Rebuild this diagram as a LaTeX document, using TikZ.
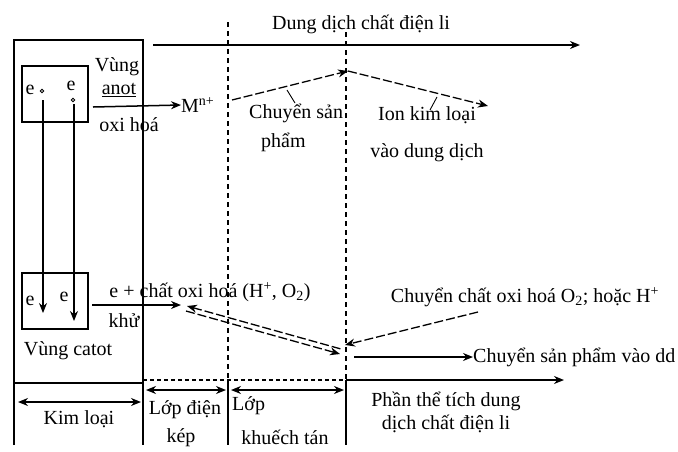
\documentclass[tikz,border=0pt]{standalone}
\usepackage{fontspec}
\setmainfont{Liberation Serif}
\usetikzlibrary{arrows.meta}
\begin{document}
\begin{tikzpicture}[x=1pt,y=-1pt,
  txt/.style={inner sep=0pt,font=\fontsize{20}{24}\selectfont},
  ln/.style={line width=1.5pt},
  arr/.style={ln,-{Stealth[length=10pt,width=8pt]}},
  darr/.style={ln,{Stealth[length=10pt,width=8pt]}-{Stealth[length=10pt,width=8pt]}},
  dsh/.style={line width=1.3pt,dash pattern=on 9pt off 3pt},
  vdash/.style={line width=1.2pt,dash pattern=on 5pt off 4pt},
  hdot/.style={line width=1.2pt,dash pattern=on 4pt off 3pt}]
\useasboundingbox (0,0) rectangle (678,451);
% metal electrode
\draw[ln] (14,445) -- (14,40) -- (143,40) -- (143,445);
\draw[ln] (14,383) -- (143,383);
% boxes
\node[draw,line width=1.3pt,minimum width=66pt,minimum height=56pt,inner sep=0pt] (anbox) at (55,94) {};
\node[draw,line width=1.3pt,minimum width=66pt,minimum height=56pt,inner sep=0pt] (catbox) at (55,301) {};
% electrons
\node[txt] (e1) at (30,90) {e};
\node[txt] (e2) at (71,86) {e};
\draw[line width=0.8pt] (42,91) circle (1.8pt) coordinate (c1);
\draw[line width=0.8pt] (73,100) circle (1.8pt) coordinate (c2);
\node[txt] (e3) at (30,301) {e};
\node[txt] (e4) at (64,297) {e};
\coordinate (s1) at (43,100); \coordinate (t1) at (43,313);
\coordinate (s2) at (74,104); \coordinate (t2) at (74,321);
\draw[arr] (s1) -- (t1);
\draw[arr] (s2) -- (t2);
% anode labels
\node[txt] (vung) at (117,67) {Vùng};
\node[txt] (anot) at (119,90) {\underline{anot}};
\node[txt] (oxh) at (129,125) {oxi hoá};
\node[txt,anchor=west] (Mion) at (181,105) {M\textsuperscript{n+}};
\coordinate (a0) at (93,107);
\draw[arr] (a0) -- (Mion.west);
% solution top
\node[txt] (title) at (361,24) {Dung dịch chất điện li};
\coordinate (sol0) at (153,45); \coordinate (sol1) at (580,45);
\draw[arr] (sol0) -- (sol1);
% vertical separators
\coordinate (v1t) at (228,22); \coordinate (v1m) at (228,380); \coordinate (v1b) at (228,445);
\coordinate (v2t) at (346,32); \coordinate (v2m) at (346,380); \coordinate (v2b) at (346,445);
\draw[vdash] (v1t) -- (v1m);
\draw[ln] (v1m) -- (v1b);
\draw[vdash] (v2t) -- (v2m);
\draw[ln] (v2m) -- (v2b);
% bottom horizontal
\coordinate (h0) at (143,380); \coordinate (h2) at (564,380);
\draw[hdot] (h0) -- (v2m);
\draw[arr] (v2m) -- (h2);
% product transfer (anode)
\coordinate (p0) at (232,100); \coordinate (p1) at (348,71); \coordinate (p2) at (488,106);
\draw[dsh,-{Stealth[length=10pt,width=8pt]}] (p0) -- (p1);
\draw[dsh,-{Stealth[length=10pt,width=8pt]}] (p1) -- (p2);
\node[txt,anchor=north west,align=left] (csp) at (249,104) {Chuyển sản\\[5pt]\hspace*{12pt}phẩm};
\coordinate (q0) at (287,90); \coordinate (q1) at (295,103);
\draw[line width=0.9pt] (q0) -- (q1);
\node[txt,align=center,anchor=north] (ion) at (427,106) {Ion kim loại\\[13pt]vào dung dịch};
\coordinate (r0) at (437,97); \coordinate (r1) at (430,110);
\draw[line width=0.9pt] (r0) -- (r1);
% cathode
\node[txt] (ecox) at (210,292) {e + chất oxi hoá (H\textsuperscript{+}, O\textsubscript{2})};
\coordinate (k0) at (92,305); \coordinate (k1) at (181,305);
\draw[arr] (k0) -- (k1);
\node[txt] (khu) at (124,321) {khử};
\node[txt] (vcat) at (68,351) {Vùng catot};
% double dashed arrows
\coordinate (d0) at (187,306); \coordinate (d1) at (341,349);
\draw[dsh,{Stealth[length=10pt,width=8pt]}-] (d0) -- (d1);
\draw[dsh,-{Stealth[length=10pt,width=8pt]}] ([shift={(-1,5)}]d0) -- ([shift={(-1,5)}]d1);
\node[txt] (chox) at (525,297) {Chuyển chất oxi hoá O\textsubscript{2}; hoặc H\textsuperscript{+}};
\coordinate (o0) at (478,312); \coordinate (o1) at (345,345);
\draw[dsh,-{Stealth[length=10pt,width=8pt]}] (o0) -- (o1);
\node[txt,anchor=west] (cspdd) at (473,357) {Chuyển sản phẩm vào dd};
\coordinate (u0) at (354,357);
\draw[arr] (u0) -- (cspdd.west);
% bottom labels
\coordinate (kl0) at (18,402); \coordinate (kl1) at (141,402);
\draw[darr] (kl0) -- (kl1);
\node[txt] (kl) at (79,419) {Kim loại};
\coordinate (ld0) at (146,390); \coordinate (ld1) at (226,390);
\draw[darr] (ld0) -- (ld1);
\node[txt] (ldk1) at (185,410) {Lớp điện};
\node[txt] (ldk2) at (181,438) {kép};
\coordinate (lk0) at (231,390); \coordinate (lk1) at (344,390);
\draw[darr] (lk0) -- (lk1);
\node[txt,anchor=west] (lkt1) at (232,406) {Lớp};
\node[txt] (lkt2) at (285,437) {khuếch tán};
\node[txt,align=center] (ptt) at (446,412) {Phần thể tích dung\\[-1pt]dịch chất điện li};
\end{tikzpicture}
\end{document}
